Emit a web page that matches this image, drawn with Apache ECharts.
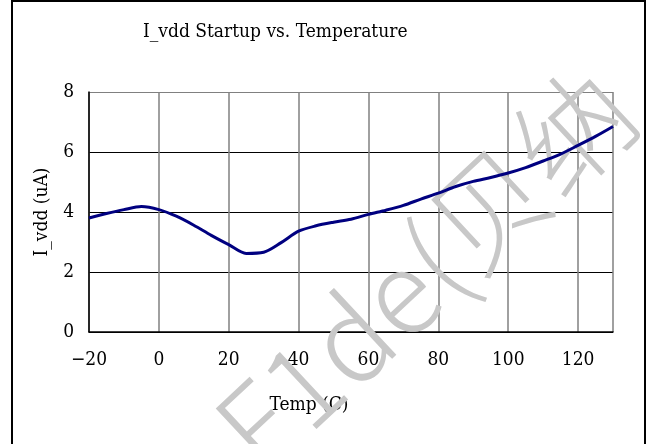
<!DOCTYPE html>
<html>
<head>
<meta charset="utf-8">
<script src="https://cdn.jsdelivr.net/npm/echarts@6/dist/echarts.min.js"></script>
<style>html,body{margin:0;padding:0;background:#fff;}#chart{width:648px;height:444px;}</style>
</head>
<body>
<div id="chart"></div>
<script>
var titleText = 'I_vdd Startup vs. Temperature';
var xName = 'Temp (C)';
var yName = 'I_vdd (uA)';
var watermark = 'F1de(贝纳';
var temps = [-20,-15,-10,-5,0,5,10,15,20,25,30,35,40,45,50,55,60,65,70,75,80,85,90,95,100,105,110,115,120,125,130];
var ivdd  = [3.80,3.95,4.08,4.18,4.08,3.86,3.56,3.22,2.91,2.62,2.66,2.98,3.36,3.54,3.66,3.76,3.92,4.06,4.22,4.43,4.63,4.85,5.02,5.15,5.30,5.48,5.70,5.93,6.22,6.52,6.85];

var FONT = '"DejaVu Serif Condensed", "DejaVu Serif", serif';
var chart = echarts.init(document.getElementById('chart'));
chart.setOption({
  animation: false,
  backgroundColor: '#fff',
  title: {
    text: titleText, left: 138, top: 18,
    textStyle: {fontFamily: FONT, fontSize: 19, fontWeight: 'normal', color: '#000'}
  },
  graphic: [{
    type: 'polyline', silent: true,
    shape: {points: [[12, 446], [12, 1], [645, 1], [645, 446]]},
    style: {stroke: '#000', lineWidth: 2, fill: null}
  }, {
    type: 'text', silent: true, z: 1,
    x: 195, y: 404, rotation: 0.75,
    style: {text: watermark, fill: '#c8c8c8', fontSize: 115, fontWeight: 300,
      fontFamily: '"Noto Sans CJK SC", sans-serif', textVerticalAlign: 'alphabetic'}
  }],
  grid: {left: 89, right: 35, top: 92, bottom: 112},
  xAxis: {
    type: 'value', min: -20, max: 130, interval: 20,
    name: xName, nameLocation: 'middle', nameGap: 64,
    nameTextStyle: {fontFamily: FONT, fontSize: 19, color: '#000', padding: [0, 84, 0, 0]},
    axisLine: {show: true, onZero: false, lineStyle: {color: '#000', width: 1.5}},
    axisTick: {show: false},
    axisLabel: {fontFamily: FONT, fontSize: 19, color: '#000', margin: 19, showMaxLabel: false,
      formatter: function (v) { return v === 130 ? '' : String(v).replace('-', '\u2212'); }},
    splitLine: {show: true, lineStyle: {color: '#808080', width: 1.5}}
  },
  yAxis: {
    type: 'value', min: 0, max: 8, interval: 2,
    name: yName, nameLocation: 'middle', nameGap: 37, nameRotate: 90,
    nameTextStyle: {fontFamily: FONT, fontSize: 19, color: '#000'},
    axisLine: {show: true, onZero: false, lineStyle: {color: '#000', width: 1.5}},
    axisTick: {show: false},
    axisLabel: {fontFamily: FONT, fontSize: 19, color: '#000', margin: 15},
    splitLine: {show: true, lineStyle: {color: ['#000', '#000', '#000', '#000', '#808080'], width: 1}}
  },
  series: [{
    type: 'line', data: temps.map(function (t, i) { return [t, ivdd[i]]; }),
    smooth: 0.3, showSymbol: false, z: 3,
    lineStyle: {color: '#000080', width: 3}
  }]
});
</script>
</body>
</html>
